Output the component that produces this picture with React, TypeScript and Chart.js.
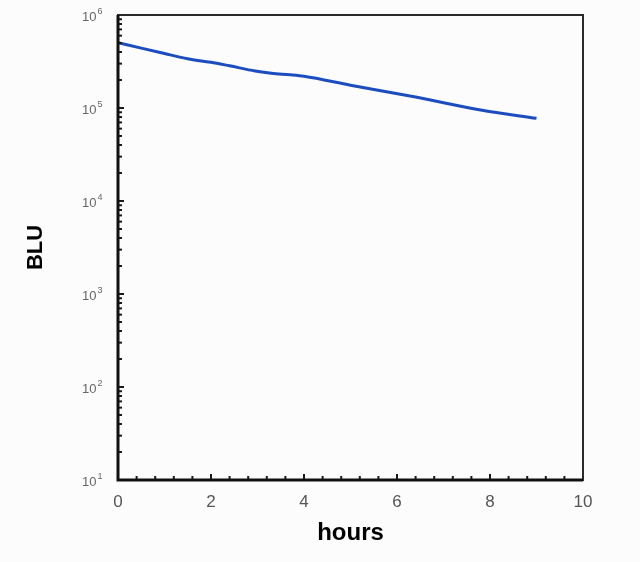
import React, { useEffect, useRef } from "react";
import { Chart, registerables } from "chart.js";

Chart.register(...registerables);

const hours = [0, 0.5, 1.0, 1.5, 1.75, 2.0, 2.4, 2.95, 3.3, 3.7, 4.0, 5.0, 6.4, 7.8, 9.0];
const blu = [504000, 440000, 385000, 338000, 322000, 310000, 284000, 250000, 236000, 228000, 220000, 176000, 131000, 95000, 77500];
const yTickValues = [10, 100, 1000, 10000, 100000, 1000000];
const yTickExponents = ["1", "2", "3", "4", "5", "6"];
const xTickValues = [0, 2, 4, 6, 8, 10];

const frameAndTicks = {
  id: "frameAndTicks",
  afterDraw(chart: any) {
    const ctx = chart.ctx;
    const { left, right, top, bottom } = chart.chartArea;
    const xs = chart.scales.x;
    const ys = chart.scales.y;
    ctx.save();
    ctx.strokeStyle = "#1a1a1a";
    ctx.lineWidth = 2;
    for (let i = 1; i < 25; i++) {
      const v = i * 0.4;
      const px = xs.getPixelForValue(v);
      const major = Math.abs(v / 2 - Math.round(v / 2)) < 1e-6;
      ctx.beginPath();
      ctx.moveTo(px, bottom);
      ctx.lineTo(px, bottom - (major ? 6 : 4));
      ctx.stroke();
    }
    for (let d = 1; d <= 5; d++) {
      const base = Math.pow(10, d);
      for (let m = 1; m <= 9; m++) {
        const v = base * m;
        const py = ys.getPixelForValue(v);
        ctx.beginPath();
        ctx.moveTo(left, py);
        ctx.lineTo(left + (m === 1 ? 6 : 4), py);
        ctx.stroke();
      }
    }
    ctx.strokeStyle = "#2a2a2a";
    ctx.lineWidth = 2;
    ctx.strokeRect(left, top, right - left, bottom - top);
    ctx.strokeStyle = "#111";
    ctx.lineWidth = 3;
    ctx.beginPath();
    ctx.moveTo(left, top);
    ctx.lineTo(left, bottom);
    ctx.lineTo(right, bottom);
    ctx.stroke();
    ctx.fillStyle = "#666";
    ctx.textAlign = "left";
    ctx.textBaseline = "middle";
    yTickValues.forEach((v, i) => {
      const py = ys.getPixelForValue(v);
      ctx.font = "13px 'Liberation Sans', Arial, sans-serif";
      const w = ctx.measureText("10").width;
      ctx.fillText("10", 82, py + 2);
      ctx.font = "9px 'Liberation Sans', Arial, sans-serif";
      ctx.fillText(yTickExponents[i], 82 + w + 1, py - 3);
    });
    ctx.restore();
  },
};

export default function App() {
  const ref = useRef<HTMLCanvasElement | null>(null);
  useEffect(() => {
    if (!ref.current) return;
    const chart = new Chart(ref.current, {
      type: "line",
      data: {
        datasets: [
          {
            data: hours.map((h, i) => ({ x: h, y: blu[i] })),
            borderColor: "#1b4cc0",
            borderWidth: 3,
            pointRadius: 0,
            cubicInterpolationMode: "monotone",
            fill: false,
          },
        ],
      },
      options: {
        animation: false,
        responsive: false,
        events: [],
        layout: { padding: { left: 0, top: 15, right: 57, bottom: 0 } },
        plugins: { legend: { display: false }, tooltip: { enabled: false } },
        scales: {
          x: {
            type: "linear",
            min: 0,
            max: 10,
            afterFit(scale: any) {
              scale.height = 82;
            },
            afterBuildTicks(scale: any) {
              scale.ticks = xTickValues.map((v) => ({ value: v }));
            },
            grid: { display: false, drawTicks: false },
            border: { display: false },
            ticks: {
              padding: 12,
              color: "#555",
              font: { size: 17, family: "'Liberation Sans', Arial, sans-serif" },
              maxRotation: 0,
            },
            title: {
              display: true,
              text: "hours",
              color: "#000",
              font: { size: 24, weight: "bold", family: "'Liberation Sans', Arial, sans-serif" },
              padding: { top: 0, bottom: 14 },
            },
          },
          y: {
            type: "logarithmic",
            min: 10,
            max: 1000000,
            afterFit(scale: any) {
              scale.width = 118;
            },
            grid: { display: false, drawTicks: false },
            border: { display: false },
            ticks: { display: false },
            title: {
              display: true,
              text: "BLU",
              color: "#000",
              font: { size: 22, weight: "bold", family: "'Liberation Sans', Arial, sans-serif" },
              padding: { top: 23, bottom: 0 },
            },
          },
        },
      },
      plugins: [frameAndTicks],
    } as any);
    return () => chart.destroy();
  }, []);
  return (
    <div style={{ position: "fixed", left: 0, top: 0, width: 640, height: 562, background: "#fcfcfc" }}>
      <canvas ref={ref} width={640} height={562} style={{ display: "block" }} />
    </div>
  );
}
